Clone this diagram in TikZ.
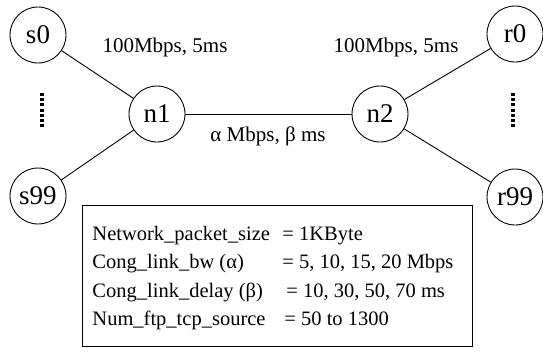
\documentclass[tikz,border=0pt]{standalone}
\usepackage{fontspec}
\setmainfont{Liberation Serif}
\begin{document}
\begin{tikzpicture}[x=1pt,y=-1pt,line width=0.9pt,
  hostnode/.style={draw,circle,minimum size=56pt,inner sep=0pt,font=\fontsize{27}{30}\selectfont},
  linklabel/.style={font=\fontsize{21}{24}\selectfont,inner sep=0pt},
  boxtext/.style={font=\fontsize{20.5}{24}\selectfont,inner sep=0pt,anchor=base west},
  dots/.style={line width=4pt,dash pattern=on 3pt off 2.2pt}]
\useasboundingbox (0,0) rectangle (543,351);
\node[hostnode] (s0) at (38,35) {s0};
\node[hostnode] (s99) at (38,196) {s99};
\node[hostnode] (n1) at (157,114) {n1};
\node[hostnode] (n2) at (380,114) {n2};
\node[hostnode] (r0) at (515,34) {r0};
\node[hostnode] (r99) at (515,197) {r99};
\draw (s0) -- (n1);
\draw (s99) -- (n1);
\draw (n1) -- (n2);
\draw (n2) -- (r0);
\draw (n2) -- (r99);
\coordinate (dl1) at (42,93);
\coordinate (dl2) at (42,128);
\coordinate (dr1) at (513,93);
\coordinate (dr2) at (513,128);
\draw[dots] (dl1) -- (dl2);
\draw[dots] (dr1) -- (dr2);
\node[linklabel] (l1) at (165,47) {100Mbps, 5ms};
\node[linklabel] (l2) at (396,47) {100Mbps, 5ms};
\node[linklabel] (l3) at (268,136) {α Mbps, β ms};
\draw (82,205) rectangle (472,346);
\node[boxtext] (a1) at (92,240) {Network\_packet\_size};
\node[boxtext] (b1) at (282,240) {= 1KByte};
\node[boxtext] (a2) at (92,268) {Cong\_link\_bw (α)};
\node[boxtext] (b2) at (282,268) {= 5, 10, 15, 20 Mbps};
\node[boxtext] (a3) at (92,297) {Cong\_link\_delay (β)};
\node[boxtext] (b3) at (286,297) {= 10, 30, 50, 70 ms};
\node[boxtext] (a4) at (92,325) {Num\_ftp\_tcp\_source};
\node[boxtext] (b4) at (284,325) {= 50 to 1300};
\end{tikzpicture}
\end{document}
